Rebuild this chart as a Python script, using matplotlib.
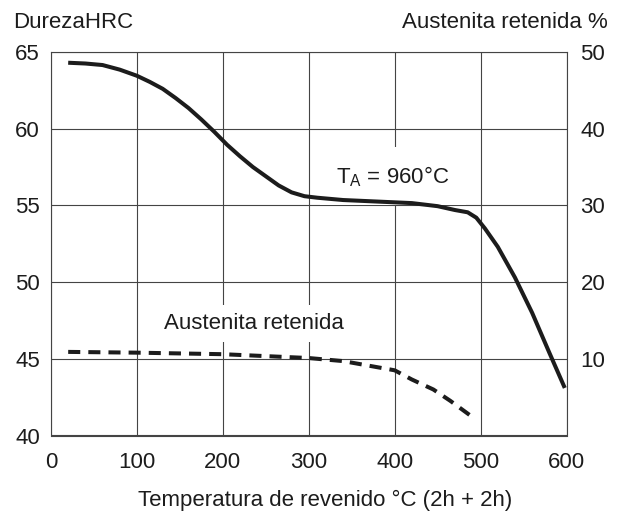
import matplotlib
matplotlib.use("Agg")
import matplotlib.pyplot as plt

plt.rcParams['font.family'] = ['Liberation Sans', 'DejaVu Sans']
plt.rcParams['mathtext.fontset'] = 'custom'
plt.rcParams['mathtext.rm'] = 'Liberation Sans'
plt.rcParams['mathtext.it'] = 'Liberation Sans'

# hardness curve (left axis, HRC)
temp_hrc = [20, 40, 60, 80, 100, 115, 130, 145, 160, 175, 190, 205, 220, 235,
            250, 265, 280, 295, 310, 340, 380, 420, 450, 470, 485, 495, 505,
            520, 540, 560, 580, 598]
hrc = [64.3, 64.25, 64.15, 63.85, 63.45, 63.05, 62.6, 62.0, 61.35, 60.6, 59.8,
       58.95, 58.2, 57.5, 56.9, 56.3, 55.85, 55.6, 55.5, 55.35, 55.25, 55.15,
       54.95, 54.7, 54.55, 54.2, 53.5, 52.3, 50.3, 48.0, 45.4, 43.1]

# retained austenite (right axis, %)
temp_aus = [20, 100, 200, 300, 340, 400, 420, 445, 465, 493]
aus = [10.9, 10.8, 10.6, 10.1, 9.7, 8.5, 7.3, 6.0, 4.5, 2.2]

x_ticks = [0, 100, 200, 300, 400, 500, 600]
y_ticks = [40, 45, 50, 55, 60, 65]
y2_ticks = [10, 20, 30, 40, 50]

ink = '#1c1c1c'
grid_col = '#444444'
fs = 16

fig = plt.figure(figsize=(6.25, 5.12), dpi=100)
ax = fig.add_axes([51 / 625, 1 - 435.5 / 512, 515.5 / 625, 383.5 / 512])

ax.set_xlim(0, 600)
ax.set_ylim(40, 65)
ax.set_xticks(x_ticks)
ax.set_yticks(y_ticks)
ax.grid(True, color=grid_col, linewidth=0.8)
ax.set_axisbelow(True)
for sp in ax.spines.values():
    sp.set_color(grid_col)
    sp.set_linewidth(0.8)
ax.tick_params(axis='both', length=0, labelsize=fs, colors=ink)
ax.tick_params(axis='x', pad=12)
ax.tick_params(axis='y', pad=8)

ax.plot(temp_hrc, hrc, color=ink, linewidth=2.9, solid_capstyle='butt',
        solid_joinstyle='round', zorder=3)

ax2 = ax.twinx()
ax2.set_ylim(0, 50)
ax2.set_yticks(y2_ticks)
ax2.tick_params(axis='y', length=0, labelsize=fs, colors=ink, pad=10)
for sp in ax2.spines.values():
    sp.set_visible(False)
dl, = ax2.plot(temp_aus, aus, color=ink, linewidth=2.9, dash_capstyle='butt', zorder=3)
dl.set_dashes((3, 2))

ax.text(332, 56.9, r'T$_{\mathrm{A}}$ = 960°C', fontsize=fs, color=ink,
        ha='left', va='center', zorder=2,
        bbox=dict(facecolor='white', edgecolor='none', pad=12))
ax.text(131, 47.3, 'Austenita retenida', fontsize=fs, color=ink,
        ha='left', va='center', zorder=2,
        bbox=dict(facecolor='white', edgecolor='none', pad=6))

fig.text(13 / 625, 1 - 22 / 512, 'DurezaHRC', fontsize=fs, color=ink,
         ha='left', va='center')
fig.text(608 / 625, 1 - 22 / 512, 'Austenita retenida %', fontsize=fs, color=ink,
         ha='right', va='center')
fig.text(325 / 625, 1 - 500 / 512, 'Temperatura de revenido °C (2h + 2h)',
         fontsize=fs, color=ink, ha='center', va='center')

fig.savefig('out.png', dpi=100, facecolor='white')
